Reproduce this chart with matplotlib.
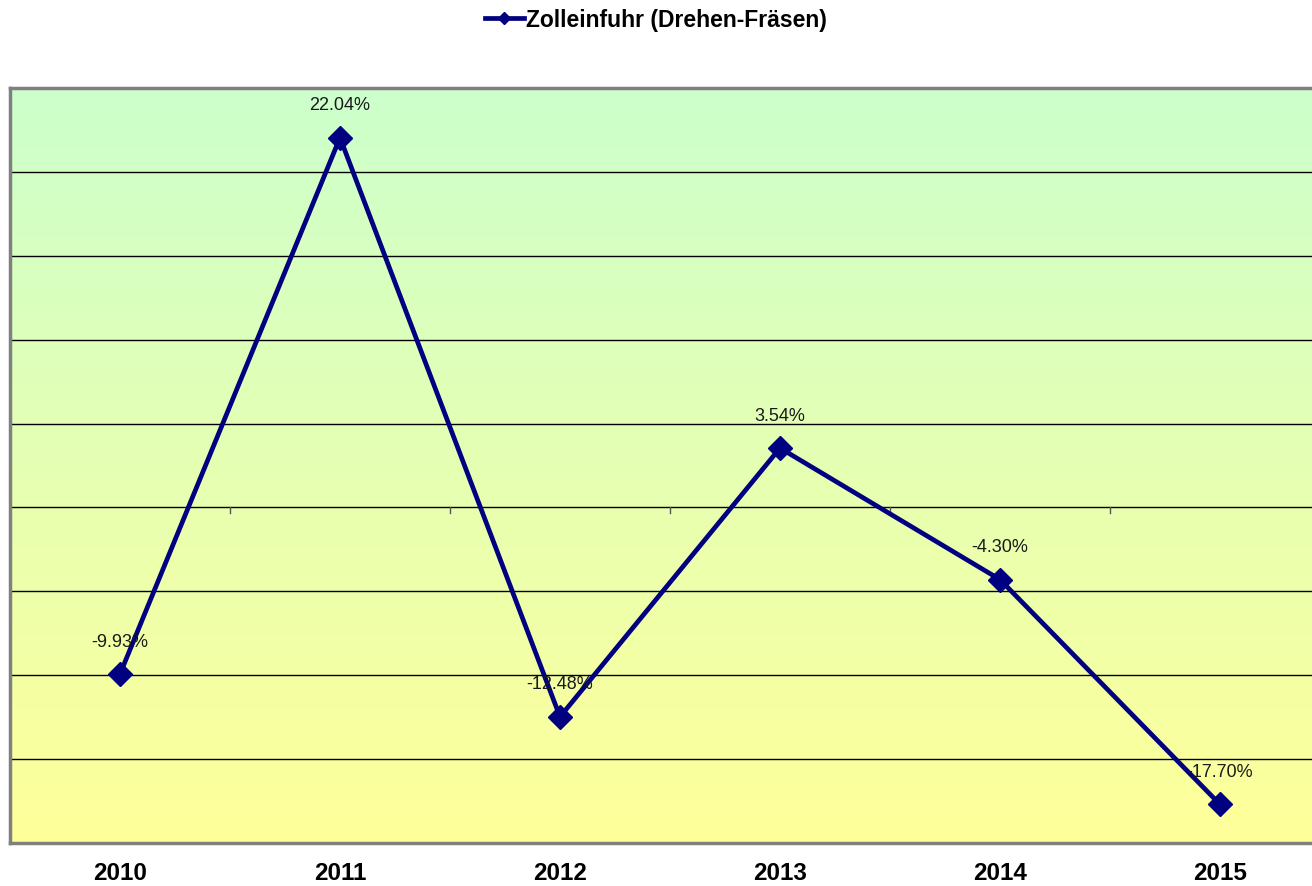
import matplotlib.pyplot as plt
from matplotlib.colors import LinearSegmentedColormap
import numpy as np

years = ['2010', '2011', '2012', '2013', '2014', '2015']
values = [-9.93, 22.04, -12.48, 3.54, -4.30, -17.70]
series_name = 'Zolleinfuhr (Drehen-Fräsen)'

plt.rcParams['font.family'] = ['Liberation Sans', 'DejaVu Sans']

W, H = 1312, 886
fig = plt.figure(figsize=(W / 100, H / 100), dpi=100)
# plot area runs past the right edge of the picture (like the original)
ax = fig.add_axes([10 / W, (H - 843) / H, 1320 / W, 755 / H])

ymin, ymax = -20, 25
ax.set_xlim(-0.5, len(years) - 0.5)
ax.set_ylim(ymin, ymax)

# gradient background green -> yellow
cmap = LinearSegmentedColormap.from_list('bg', ['#FFFF99', '#CCFFCC'])
grad = np.linspace(0, 1, 256).reshape(-1, 1)
ax.imshow(grad, cmap=cmap, origin='lower', aspect='auto',
          extent=[-0.5, len(years) - 0.5, ymin, ymax], zorder=0)

# horizontal gridlines
for yv in range(ymin + 5, ymax, 5):
    ax.axhline(yv, color='black', lw=1, zorder=1)

# category tick marks on the zero line
for xb in np.arange(-0.5, len(years), 1.0):
    ax.plot([xb, xb], [0, -0.35], color='#555555', lw=1, zorder=1)

x = np.arange(len(years))
ax.plot(x, values, color='#000080', lw=3.4, marker='D', markersize=12,
        zorder=3, label=series_name, clip_on=False)

for xi, v in zip(x, values):
    ax.annotate(f'{v:.2f}%', (xi, v), xytext=(0, 23), textcoords='offset points',
                ha='center', va='center', fontsize=13, color='#1a1a1a', zorder=4)

ax.set_yticks([])
ax.set_xticks(x)
ax.set_xticklabels(years, fontsize=17.5, fontweight='bold')
ax.tick_params(axis='x', length=0, pad=14)

for side in ['top', 'left', 'bottom', 'right']:
    ax.spines[side].set_color('#808080')
    ax.spines[side].set_linewidth(2.5)

fig.legend(handles=ax.get_lines()[-1:], loc='center', bbox_to_anchor=(0.5, 1 - 20 / H),
           frameon=False, prop={'weight': 'bold', 'size': 16.5}, handlelength=1.7,
           handletextpad=0.1, markerscale=0.5)

fig.savefig('out.png', dpi=100)
